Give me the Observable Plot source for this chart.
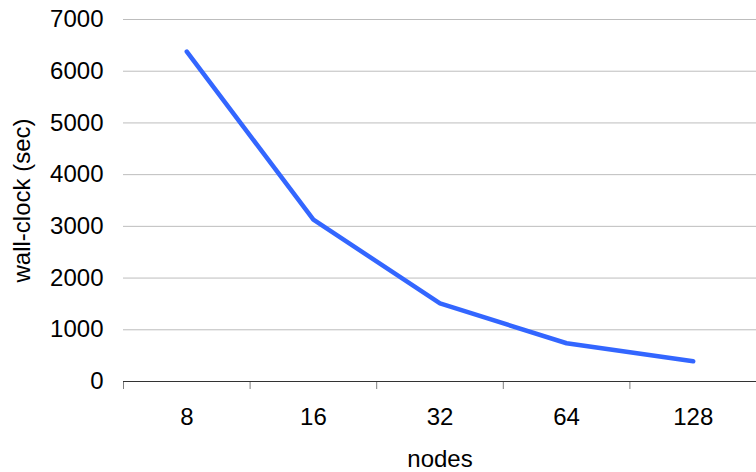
<!DOCTYPE html>
<html>
<head>
<meta charset="utf-8">
<script src="https://cdn.jsdelivr.net/npm/d3@7"></script>
<script src="https://cdn.jsdelivr.net/npm/@observablehq/plot@0.6"></script>
<style>
  body { margin: 0; background: #fff; }
  #chart { width: 756px; height: 472px; }
</style>
</head>
<body>
<div id="chart"></div>
<script>
const nodes = ["8", "16", "32", "64", "128"];
const wallClock = [6380, 3130, 1510, 740, 390];
const yTicks = [0, 1000, 2000, 3000, 4000, 5000, 6000, 7000];
const xLabel = "nodes";
const yLabel = "wall-clock (sec)";

const data = nodes.map((n, i) => ({node: n, idx: i, value: wallClock[i]}));
const bandEdges = d3.range(nodes.length + 1);
const bandCenters = nodes.map((_, i) => i + 0.5);

const font = "'Liberation Sans', Arial, sans-serif";

const chart = Plot.plot({
  width: 756,
  height: 472,
  marginLeft: 123,
  marginRight: 0,
  marginTop: 19,
  marginBottom: 91,
  style: {fontFamily: font, fontSize: "24px", color: "#000", background: "#fff", overflow: "visible"},
  x: {type: "linear", domain: [0, nodes.length]},
  y: {domain: [0, 7000]},
  marks: [
    Plot.ruleY(yTicks.filter(d => d > 0), {stroke: "#bdbdbd", strokeWidth: 1}),
    Plot.axisY({ticks: yTicks, tickSize: 0, tickPadding: 20, label: null, fontSize: 24, tickFormat: d => String(d)}),
    Plot.axisX({ticks: bandEdges, tickSize: 8, tickFormat: () => "", stroke: "#7f7f7f", label: null}),
    Plot.axisX({ticks: bandCenters, tickSize: 0, tickPadding: 26, fontSize: 24, tickFormat: d => nodes[Math.floor(d)], label: null}),
    Plot.ruleY([0], {stroke: "#333", strokeWidth: 1.2}),
    Plot.line(data, {x: d => d.idx + 0.5, y: "value", stroke: "#3366ff", strokeWidth: 4.5, strokeLinecap: "round", strokeLinejoin: "round"}),
    Plot.text([yLabel], {frameAnchor: "left", dx: -101, rotate: -90, fontSize: 24, textAnchor: "middle", lineAnchor: "middle", fill: "#000"}),
    Plot.text([xLabel], {frameAnchor: "bottom", dy: 78, fontSize: 24, textAnchor: "middle", lineAnchor: "middle", fill: "#000"})
  ]
});
document.getElementById("chart").appendChild(chart);
</script>
</body>
</html>
